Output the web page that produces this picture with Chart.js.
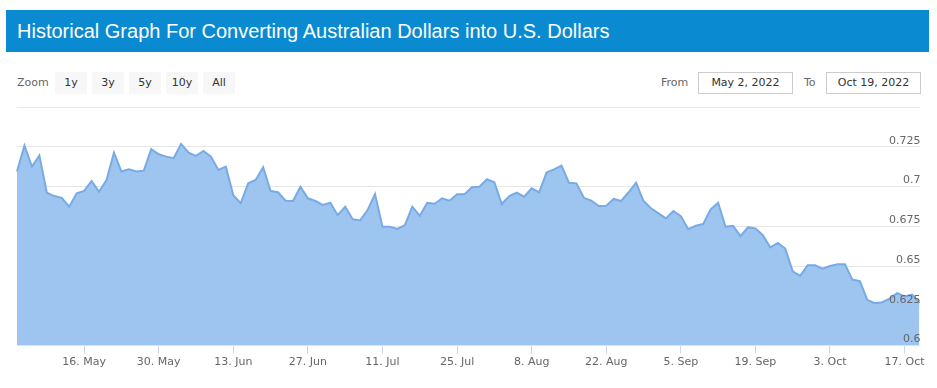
<!DOCTYPE html>
<html>
<head>
<meta charset="utf-8">
<script src="https://cdn.jsdelivr.net/npm/chart.js@4.4.1/dist/chart.umd.min.js"></script>
<style>
    body { margin: 0; width: 937px; height: 388px; background: #fff; position: relative; overflow: hidden; font-family: "DejaVu Sans", Verdana, sans-serif; }
    .title-bar { position: absolute; left: 6px; top: 10px; width: 923px; height: 42px; background: #0a8ad0; }
    .title-bar h1 { margin: 0; padding-left: 11px; font: 20px/42px "Liberation Sans", Arial, sans-serif; color: #fff; }
    .zoom-label { position: absolute; left: 17px; top: 74px; font-size: 11px; line-height: 18px; color: #666; }
    .btn { position: absolute; top: 72px; width: 32px; height: 22px; line-height: 21px; background: #f7f7f7; text-align: center; font-size: 11px; color: #333; }
    .range-label { position: absolute; top: 74px; font-size: 11px; line-height: 18px; color: #666; }
    .range-box { position: absolute; top: 72px; width: 93px; height: 20px; border: 1px solid #ccc; text-align: center; line-height: 20px; font-size: 11px; color: #333; box-sizing: content-box; }
    #chartWrap { position: absolute; left: 0; top: 95px; width: 937px; height: 293px; }
</style>
</head>
<body>
<div class="title-bar"><h1>Historical Graph For Converting Australian Dollars into U.S. Dollars</h1></div>
<div class="zoom-label">Zoom</div>
<div class="btn" style="left:55px">1y</div>
<div class="btn" style="left:92px">3y</div>
<div class="btn" style="left:129px">5y</div>
<div class="btn" style="left:166px">10y</div>
<div class="btn" style="left:203px">All</div>
<div class="range-label" style="left:661px">From</div>
<div class="range-box" style="left:698px">May 2, 2022</div>
<div class="range-label" style="left:804px">To</div>
<div class="range-box" style="left:826px">Oct 19, 2022</div>
<div id="chartWrap"><canvas id="rateChart"></canvas></div>

<script>
// AUD -> USD, one value per weekday from 3 May 2022 to 19 Oct 2022
const firstDay = "2022-05-03";
const lastDay = "2022-10-19";

const rates = [
    0.7094, 0.7258, 0.7125, 0.7195, 0.6961, 0.6940, 0.6929, 0.6873, 0.6957, 0.6973,
    0.7035, 0.6967, 0.7041, 0.7213, 0.7094, 0.7108, 0.7094, 0.7100, 0.7235, 0.7203,
    0.7188, 0.7178, 0.7268, 0.7213, 0.7193, 0.7224, 0.7188, 0.7104, 0.7125, 0.6945,
    0.6896, 0.7020, 0.7041, 0.7121, 0.6972, 0.6964, 0.6911, 0.6909, 0.6999, 0.6926,
    0.6909, 0.6884, 0.6898, 0.6820, 0.6873, 0.6795, 0.6787, 0.6852, 0.6953, 0.6747,
    0.6747, 0.6734, 0.6757, 0.6873, 0.6816, 0.6898, 0.6892, 0.6926, 0.6911, 0.6951,
    0.6951, 0.6995, 0.6999, 0.7046, 0.7027, 0.6890, 0.6940, 0.6961, 0.6936, 0.6989,
    0.6964, 0.7088, 0.7108, 0.7132, 0.7024, 0.7020, 0.6929, 0.6911, 0.6877, 0.6879,
    0.6922, 0.6909, 0.6964, 0.7024, 0.6909, 0.6863, 0.6831, 0.6800, 0.6846, 0.6814,
    0.6732, 0.6753, 0.6764, 0.6857, 0.6898, 0.6747, 0.6753, 0.6688, 0.6743, 0.6737,
    0.6694, 0.6617, 0.6646, 0.6610, 0.6467, 0.6438, 0.6505, 0.6505, 0.6484, 0.6500,
    0.6511, 0.6511, 0.6415, 0.6406, 0.6288, 0.6267, 0.6273, 0.6295, 0.6330, 0.6309,
    0.6320, 0.6267
];

const xTickLabels = ["16. May", "30. May", "13. Jun", "27. Jun", "11. Jul", "25. Jul",
    "8. Aug", "22. Aug", "5. Sep", "19. Sep", "3. Oct", "17. Oct"];

const yMin = 0.6;
const yMax = 0.75;
const yStep = 0.025;

const monthNames = ["Jan", "Feb", "Mar", "Apr", "May", "Jun", "Jul", "Aug", "Sep", "Oct", "Nov", "Dec"];

// weekday labels, forex data skips weekends
function weekdays(from, to) {
    const out = [];
    const d = new Date(from + "T00:00:00Z");
    const end = new Date(to + "T00:00:00Z");
    while (d <= end) {
        const wd = d.getUTCDay();
        if (wd !== 0 && wd !== 6) {
            out.push(d.getUTCDate() + ". " + monthNames[d.getUTCMonth()]);
        }
        d.setUTCDate(d.getUTCDate() + 1);
    }
    return out;
}

const days = weekdays(firstDay, lastDay);

function drawChart() {
    const ctx = document.getElementById("rateChart").getContext("2d");
    new Chart(ctx, {
        type: "line",
        data: {
            labels: days,
            datasets: [{
                data: rates,
                borderColor: "#78abe5",
                backgroundColor: "#9dc5ef",
                borderWidth: 2,
                pointRadius: 0,
                tension: 0,
                fill: "start"
            }]
        },
        options: {
            responsive: true,
            maintainAspectRatio: false,
            animation: false,
            layout: { padding: { left: 17, right: 17.5, top: 12, bottom: 12.4 } },
            plugins: { legend: { display: false }, tooltip: { enabled: false } },
            scales: {
                x: {
                    type: "category",
                    offset: false,
                    afterBuildTicks: scale => {
                        scale.ticks = scale.ticks.filter(t => xTickLabels.includes(days[t.value]));
                    },
                    afterFit: scale => { scale.height = 30; },
                    grid: { display: true, drawOnChartArea: false, drawTicks: true, tickLength: 8, color: "#ccd6eb", offset: false },
                    border: { display: false },
                    ticks: {
                        autoSkip: false,
                        maxRotation: 0,
                        padding: 2,
                        color: "#666",
                        font: { family: "'DejaVu Sans', Verdana, sans-serif", size: 11 },
                        callback: function (value) { return days[value]; }
                    }
                },
                y: {
                    position: "right",
                    min: yMin,
                    max: yMax,
                    afterFit: scale => { scale.width = 0; },
                    grid: { color: "#e6e6e6", drawTicks: false },
                    border: { display: false },
                    ticks: {
                        stepSize: yStep,
                        mirror: true,
                        padding: 1,
                        labelOffset: -6,
                        z: 1,
                        color: "#666",
                        font: { family: "'DejaVu Sans', Verdana, sans-serif", size: 11 },
                        callback: function (value) {
                            if (value >= yMax - 0.001) return "";
                            return parseFloat(value.toFixed(3)).toString();
                        }
                    }
                }
            }
        }
    });
}

document.addEventListener("DOMContentLoaded", () => {
    drawChart();
});
</script>
</body>
</html>
